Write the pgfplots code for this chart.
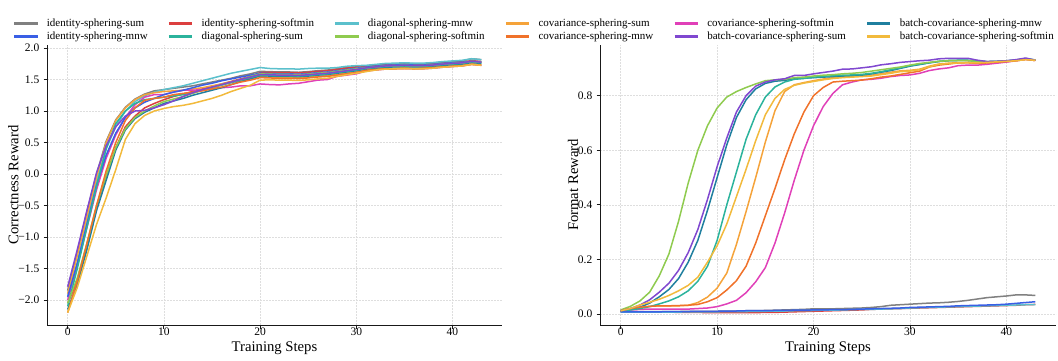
\documentclass[border=0pt]{standalone}
\usepackage{pgfplots}
\pgfplotsset{compat=1.18}
\usepackage{pgfplotstable}
\usepackage{fontspec}
\setmainfont{Liberation Serif}
\definecolor{cgray}{HTML}{808080}
\definecolor{cred}{HTML}{DC3F3F}
\definecolor{ccyan}{HTML}{5BC0CC}
\definecolor{cltor}{HTML}{F5A33A}
\definecolor{cmag}{HTML}{E040B8}
\definecolor{cdkt}{HTML}{1F7F9F}
\definecolor{cblue}{HTML}{3A5FE5}
\definecolor{cteal}{HTML}{2BB39C}
\definecolor{cgreen}{HTML}{8FCB4F}
\definecolor{corng}{HTML}{F0722A}
\definecolor{cpurp}{HTML}{8048D0}
\definecolor{cgold}{HTML}{F2BA3C}

\pgfplotstableread{
t gray red cyan ltor mag dkt blue teal green orng purp gold
0 -1.85 -2.05 -1.95 -1.90 -2.00 -2.15 -1.95 -2.10 -2.05 -2.20 -1.79 -2.20
1 -1.25 -1.70 -1.40 -1.30 -1.45 -1.75 -1.42 -1.50 -1.65 -1.70 -1.20 -1.80
2 -0.60 -1.15 -0.75 -0.68 -0.85 -1.20 -0.80 -0.85 -1.10 -1.10 -0.58 -1.30
3 0.00 -0.55 -0.12 -0.05 -0.25 -0.58 -0.18 -0.20 -0.50 -0.50 0.02 -0.80
4 0.52 -0.05 0.40 0.50 0.25 -0.10 0.30 0.40 -0.02 0.05 0.45 -0.38
5 0.86 0.42 0.75 0.85 0.62 0.38 0.65 0.80 0.42 0.50 0.75 0.07
6 1.06 0.75 1.00 1.05 0.90 0.70 0.90 1.00 0.72 0.85 0.92 0.55
7 1.19 0.92 1.15 1.18 1.10 0.88 1.05 1.12 0.90 1.05 1.00 0.80
8 1.27 1.05 1.24 1.26 1.22 0.98 1.14 1.18 1.00 1.17 1.01 0.93
9 1.32 1.12 1.30 1.29 1.26 1.05 1.20 1.20 1.08 1.20 1.05 1.00
10 1.34 1.18 1.34 1.31 1.26 1.12 1.26 1.22 1.15 1.22 1.10 1.04
11 1.36 1.23 1.37 1.32 1.30 1.16 1.30 1.24 1.19 1.26 1.16 1.07
12 1.38 1.27 1.40 1.33 1.33 1.20 1.33 1.26 1.23 1.28 1.23 1.09
13 1.40 1.31 1.44 1.35 1.33 1.25 1.37 1.29 1.28 1.30 1.29 1.12
14 1.43 1.35 1.48 1.37 1.34 1.29 1.41 1.33 1.33 1.32 1.34 1.16
15 1.46 1.39 1.52 1.40 1.36 1.33 1.44 1.37 1.37 1.35 1.38 1.20
16 1.49 1.43 1.56 1.43 1.37 1.37 1.48 1.41 1.42 1.38 1.42 1.25
17 1.52 1.47 1.60 1.46 1.38 1.42 1.51 1.45 1.46 1.42 1.46 1.31
18 1.56 1.51 1.63 1.49 1.40 1.47 1.54 1.49 1.50 1.46 1.50 1.36
19 1.59 1.55 1.66 1.52 1.40 1.51 1.57 1.53 1.55 1.49 1.54 1.41
20 1.63 1.61 1.69 1.55 1.43 1.56 1.60 1.57 1.59 1.53 1.58 1.49
21 1.625 1.615 1.675 1.535 1.42 1.555 1.595 1.565 1.585 1.525 1.575 1.495
22 1.62 1.61 1.67 1.53 1.415 1.55 1.59 1.56 1.58 1.52 1.57 1.49
23 1.62 1.61 1.67 1.53 1.43 1.55 1.59 1.56 1.58 1.52 1.57 1.49
24 1.615 1.605 1.665 1.525 1.44 1.545 1.585 1.555 1.575 1.515 1.565 1.485
25 1.625 1.615 1.675 1.535 1.465 1.555 1.595 1.565 1.585 1.525 1.575 1.495
26 1.64 1.63 1.68 1.55 1.49 1.57 1.61 1.58 1.60 1.54 1.59 1.51
27 1.65 1.64 1.68 1.56 1.50 1.58 1.62 1.59 1.61 1.55 1.60 1.52
28 1.67 1.66 1.69 1.58 1.55 1.60 1.64 1.61 1.63 1.57 1.62 1.55
29 1.69 1.68 1.71 1.60 1.57 1.62 1.66 1.63 1.65 1.59 1.64 1.575
30 1.71 1.70 1.72 1.62 1.59 1.64 1.68 1.65 1.67 1.61 1.66 1.60
31 1.715 1.695 1.725 1.645 1.635 1.665 1.695 1.675 1.685 1.645 1.685 1.625
32 1.73 1.71 1.74 1.66 1.65 1.68 1.71 1.69 1.70 1.66 1.70 1.65
33 1.745 1.725 1.755 1.675 1.665 1.695 1.725 1.705 1.715 1.67 1.715 1.665
34 1.75 1.73 1.76 1.68 1.67 1.70 1.73 1.71 1.72 1.67 1.72 1.67
35 1.755 1.735 1.765 1.685 1.675 1.705 1.735 1.715 1.725 1.675 1.725 1.675
36 1.75 1.73 1.76 1.68 1.67 1.70 1.73 1.71 1.72 1.67 1.72 1.67
37 1.75 1.73 1.76 1.68 1.67 1.70 1.73 1.71 1.72 1.68 1.72 1.67
38 1.76 1.74 1.77 1.69 1.68 1.71 1.74 1.72 1.73 1.69 1.73 1.68
39 1.775 1.755 1.785 1.705 1.695 1.725 1.755 1.735 1.745 1.70 1.745 1.695
40 1.785 1.765 1.795 1.715 1.705 1.735 1.765 1.745 1.755 1.71 1.755 1.705
41 1.795 1.775 1.805 1.725 1.715 1.745 1.775 1.755 1.765 1.72 1.765 1.715
42 1.83 1.80 1.83 1.75 1.74 1.77 1.79 1.78 1.79 1.74 1.79 1.74
43 1.815 1.785 1.815 1.735 1.725 1.755 1.78 1.765 1.775 1.73 1.775 1.725
}\lefttab

\pgfplotstableread{
t gray red cyan ltor mag dkt blue teal green orng purp gold
0 .010 .010 .007 .012 .012 .010 .008 .012 .015 .012 .012 .012
1 .009 .009 .007 .020 .015 .016 .008 .015 .028 .020 .020 .020
2 .009 .008 .007 .025 .017 .025 .008 .020 .048 .025 .033 .033
3 .009 .008 .007 .028 .018 .040 .008 .027 .080 .028 .052 .043
4 .009 .007 .007 .030 .018 .063 .008 .037 .140 .030 .080 .054
5 .009 .007 .007 .030 .018 .090 .009 .048 .220 .030 .113 .068
6 .009 .006 .007 .030 .018 .130 .009 .063 .340 .031 .160 .085
7 .010 .006 .008 .032 .018 .190 .009 .085 .480 .032 .225 .105
8 .010 .006 .008 .042 .020 .270 .010 .120 .600 .035 .310 .135
9 .010 .005 .008 .062 .022 .380 .010 .175 .690 .045 .420 .190
10 .010 .005 .008 .095 .027 .500 .010 .270 .755 .060 .540 .250
11 .011 .005 .009 .150 .037 .620 .011 .400 .795 .088 .645 .330
12 .011 .005 .009 .255 .050 .720 .011 .520 .815 .122 .740 .430
13 .012 .005 .009 .375 .078 .785 .012 .640 .830 .175 .800 .530
14 .012 .005 .010 .500 .118 .825 .012 .730 .843 .260 .835 .635
15 .013 .006 .010 .630 .170 .845 .012 .795 .855 .360 .850 .730
16 .014 .006 .011 .745 .260 .853 .013 .832 .858 .460 .858 .790
17 .015 .007 .011 .815 .370 .856 .013 .850 .860 .565 .862 .823
18 .016 .008 .012 .840 .490 .862 .014 .860 .866 .660 .874 .838
19 .017 .009 .012 .848 .600 .864 .014 .863 .868 .740 .874 .846
20 .019 .010 .013 .855 .690 .866 .015 .868 .872 .800 .880 .852
21 .019 .011 .014 .861 .760 .868 .015 .870 .875 .830 .885 .858
22 .019 .012 .014 .866 .808 .870 .016 .873 .877 .850 .890 .863
23 .020 .013 .015 .869 .840 .872 .016 .875 .880 .853 .897 .866
24 .021 .014 .016 .870 .850 .873 .017 .876 .882 .855 .898 .868
25 .022 .015 .017 .873 .858 .875 .018 .878 .885 .857 .902 .870
26 .024 .017 .017 .875 .860 .880 .019 .882 .890 .862 .906 .872
27 .027 .018 .018 .880 .864 .886 .020 .888 .895 .868 .913 .877
28 .032 .019 .019 .886 .870 .892 .021 .895 .900 .872 .917 .882
29 .034 .020 .020 .891 .874 .900 .022 .902 .905 .878 .922 .888
30 .036 .021 .022 .893 .876 .908 .024 .910 .912 .884 .925 .890
31 .038 .022 .023 .897 .882 .914 .025 .915 .918 .890 .928 .895
32 .040 .023 .024 .908 .892 .920 .026 .921 .922 .905 .930 .906
33 .041 .024 .025 .916 .898 .925 .027 .926 .926 .912 .935 .915
34 .043 .025 .026 .919 .902 .928 .028 .929 .928 .916 .937 .918
35 .046 .026 .027 .921 .910 .929 .030 .930 .928 .920 .937 .920
36 .050 .027 .028 .921 .912 .929 .031 .930 .928 .921 .937 .921
37 .055 .028 .029 .919 .912 .926 .032 .927 .926 .918 .930 .920
38 .060 .029 .030 .921 .915 .924 .033 .925 .925 .920 .925 .922
39 .063 .030 .031 .923 .919 .925 .034 .926 .925 .923 .926 .924
40 .066 .031 .032 .925 .923 .927 .036 .928 .927 .925 .928 .926
41 .070 .032 .033 .928 .928 .930 .039 .931 .930 .928 .932 .928
42 .070 .034 .034 .933 .933 .935 .042 .936 .935 .933 .938 .932
43 .068 .035 .034 .929 .929 .930 .045 .931 .930 .929 .930 .930
}\righttab

\pgfplotsset{
  myaxis/.style={
    scale only axis, height=280pt,
    xmin=-2.15, xmax=45.15,
    axis lines*=left,
    axis line style={-, black!90, line width=0.9pt},
    tick align=outside, major tick length=3.5pt,
    tick style={black!90, line width=0.8pt},
    xtick={0,10,20,30,40}, xticklabels={0,10,20,30,40},
    xmajorgrids, ymajorgrids,
    grid style={dash pattern=on 2pt off 1pt, black!13, line width=0.5pt},
    ticklabel style={font=\fontsize{11.5}{13}\selectfont, inner sep=0pt},
    xticklabel style={anchor=base, yshift=-7.4pt},
    yticklabel style={anchor=east, xshift=-4pt},
    label style={font=\fontsize{14.7}{17}\selectfont, inner sep=0pt},
    xlabel={Training Steps},
    xlabel style={at={(axis description cs:0.5,0)}, anchor=base, yshift=-26.7pt},
    every axis plot/.append style={line width=1.5pt, line join=round, no markers},
  }
}

\begin{document}
\begin{tikzpicture}
\useasboundingbox (0,0) rectangle (1058pt,360pt);
\begin{axis}[myaxis, at={(47pt,35pt)}, anchor=south west, width=455pt,
  ymin=-2.397, ymax=2.048,
  ytick={-2,-1.5,-1,-0.5,0,0.5,1,1.5,2},
  yticklabels={−2.0,−1.5,−1.0,−0.5,0.0,0.5,1.0,1.5,2.0},
  ylabel={Correctness Reward},
  ylabel style={at={(axis description cs:-0.063,0.5)}, anchor=base},
  legend columns=6, legend cell align=left,
  legend image code/.code={\draw[#1, line width=2.1pt] (0pt,0pt) -- (23.3pt,0pt);},
  legend style={at={(axis description cs:-0.0747,1.0964)}, anchor=north west,
    draw=none, fill=none, inner sep=0pt,
    font=\fontsize{11}{13}\selectfont,
    nodes={inner xsep=8.3pt, inner ysep=0pt, text height=8pt, text depth=2.5pt},
    row sep=2.5pt,
    /tikz/every even column/.append style={column sep=11.9pt}},
]
\addplot[cgray] table[x=t,y=gray]{\lefttab};
\addplot[cred] table[x=t,y=red]{\lefttab};
\addplot[ccyan] table[x=t,y=cyan]{\lefttab};
\addplot[cltor] table[x=t,y=ltor]{\lefttab};
\addplot[cmag] table[x=t,y=mag]{\lefttab};
\addplot[cdkt] table[x=t,y=dkt]{\lefttab};
\addplot[cblue] table[x=t,y=blue]{\lefttab};
\addplot[cteal] table[x=t,y=teal]{\lefttab};
\addplot[cgreen] table[x=t,y=green]{\lefttab};
\addplot[corng] table[x=t,y=orng]{\lefttab};
\addplot[cpurp] table[x=t,y=purp]{\lefttab};
\addplot[cgold] table[x=t,y=gold]{\lefttab};
\legend{identity-sphering-sum, identity-sphering-softmin, diagonal-sphering-mnw, covariance-sphering-sum, covariance-sphering-softmin, batch-covariance-sphering-mnw,
identity-sphering-mnw, diagonal-sphering-sum, diagonal-sphering-softmin, covariance-sphering-mnw, batch-covariance-sphering-sum, batch-covariance-sphering-softmin}
\end{axis}
\begin{axis}[myaxis, at={(600pt,35pt)}, anchor=south west, width=456pt,
  ymin=-0.0403, ymax=0.9857,
  ytick={0,0.2,0.4,0.6,0.8},
  yticklabels={0.0,0.2,0.4,0.6,0.8},
  ylabel={Format Reward},
  ylabel style={at={(axis description cs:-0.048,0.5)}, anchor=base},
]
\addplot[cgray] table[x=t,y=gray]{\righttab};
\addplot[cred] table[x=t,y=red]{\righttab};
\addplot[ccyan] table[x=t,y=cyan]{\righttab};
\addplot[cltor] table[x=t,y=ltor]{\righttab};
\addplot[cmag] table[x=t,y=mag]{\righttab};
\addplot[cdkt] table[x=t,y=dkt]{\righttab};
\addplot[cblue] table[x=t,y=blue]{\righttab};
\addplot[cteal] table[x=t,y=teal]{\righttab};
\addplot[cgreen] table[x=t,y=green]{\righttab};
\addplot[corng] table[x=t,y=orng]{\righttab};
\addplot[cpurp] table[x=t,y=purp]{\righttab};
\addplot[cgold] table[x=t,y=gold]{\righttab};
\end{axis}
\end{tikzpicture}
\end{document}
